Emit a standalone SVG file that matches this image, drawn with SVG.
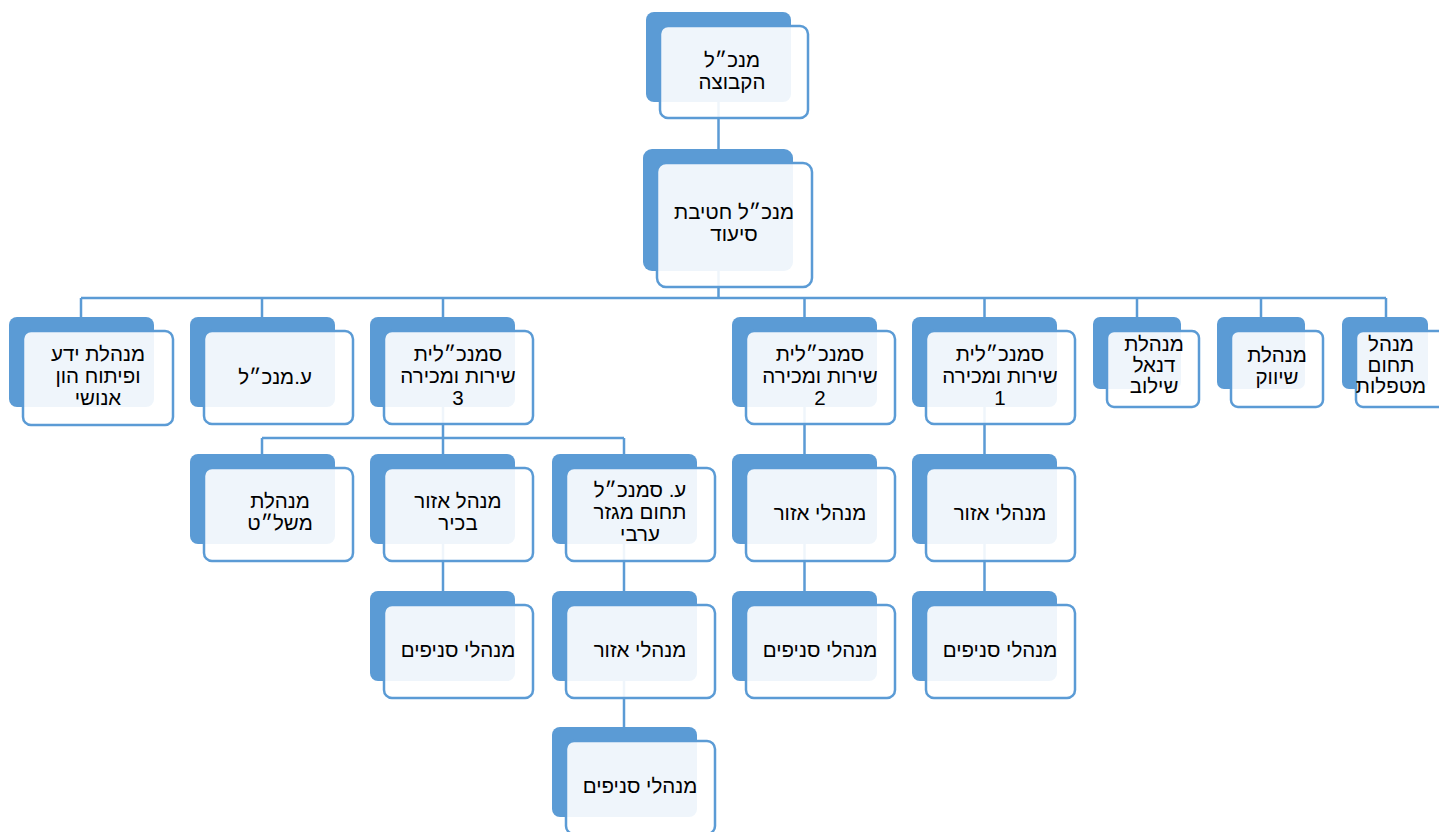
<svg xmlns="http://www.w3.org/2000/svg" width="1439" height="832" viewBox="0 0 1439 832">
<style>
.bk{fill:#5B9BD5;}
.fr{fill:#FFFFFF;fill-opacity:0.9;stroke:#5B9BD5;stroke-width:2.5;}
.cn{stroke:#5B9BD5;stroke-width:2.5;fill:none;}
text{font-family:"Liberation Sans","DejaVu Sans",sans-serif;font-size:20.5px;fill:#000;text-anchor:middle;direction:rtl;}
</style>
<rect width="1439" height="832" fill="#FFFFFF"/>
<g id="connectors">
<path class="cn" d="M718.5,57 V149 M718.5,210 V298 M81,298 H1386 M81,298 V317 M262,298 V317 M443,298 V317 M804.5,298 V317 M984.5,298 V317 M1137,298 V317 M1261,298 V317 M1386,298 V317"/>
<path class="cn" d="M443,362 V454 M262,438 H624 M262,438 V454 M624,438 V454"/>
<path class="cn" d="M443,499 V591 M624,499 V591 M624,636 V727 M804.5,362 V454 M804.5,499 V591 M984.5,362 V454 M984.5,499 V591"/>
</g>
<g id="n-top"><rect class="bk" x="646" y="12" width="145" height="90" rx="8"/><rect class="fr" x="660" y="26" width="148" height="92" rx="8"/><text x="732"><tspan x="732" y="67">מנכ״ל</tspan><tspan x="732" y="89">הקבוצה</tspan></text></g>
<g id="n-siud"><rect class="bk" x="643" y="149" width="150" height="122" rx="9"/><rect class="fr" x="657" y="163" width="155" height="124" rx="9"/><text><tspan x="734" y="219">מנכ״ל חטיבת</tspan><tspan x="734" y="241">סיעוד</tspan></text></g>
<g id="n-yeda"><rect class="bk" x="9" y="317" width="145" height="90" rx="8"/><rect class="fr" x="23" y="331" width="150" height="94" rx="8"/><text><tspan x="98" y="361">מנהלת ידע</tspan><tspan x="98" y="383">ופיתוח הון</tspan><tspan x="98" y="405">אנושי</tspan></text></g>
<g id="n-deputy"><rect class="bk" x="190" y="317" width="145" height="90" rx="8"/><rect class="fr" x="204" y="331" width="149" height="93" rx="8"/><text><tspan x="275" y="384">ע.מנכ״ל</tspan></text></g>
<g id="n-vp3"><rect class="bk" x="370" y="317" width="145" height="90" rx="8"/><rect class="fr" x="384" y="331" width="149" height="93" rx="8"/><text><tspan x="458" y="361">סמנכ״לית</tspan><tspan x="458" y="383">שירות ומכירה</tspan><tspan x="458" y="405">3</tspan></text></g>
<g id="n-vp2"><rect class="bk" x="732" y="317" width="145" height="90" rx="8"/><rect class="fr" x="746" y="331" width="149" height="93" rx="8"/><text><tspan x="820" y="361">סמנכ״לית</tspan><tspan x="820" y="383">שירות ומכירה</tspan><tspan x="820" y="405">2</tspan></text></g>
<g id="n-vp1"><rect class="bk" x="912" y="317" width="145" height="90" rx="8"/><rect class="fr" x="926" y="331" width="149" height="93" rx="8"/><text><tspan x="1000" y="361">סמנכ״לית</tspan><tspan x="1000" y="383">שירות ומכירה</tspan><tspan x="1000" y="405">1</tspan></text></g>
<g id="n-danel"><rect class="bk" x="1093" y="317" width="88" height="72" rx="7"/><rect class="fr" x="1107" y="331" width="92" height="76" rx="7"/><text><tspan x="1154" y="351">מנהלת</tspan><tspan x="1154" y="372">דנאל</tspan><tspan x="1154" y="393">שילוב</tspan></text></g>
<g id="n-shivuk"><rect class="bk" x="1217" y="317" width="88" height="72" rx="7"/><rect class="fr" x="1231" y="331" width="92" height="76" rx="7"/><text><tspan x="1277" y="362">מנהלת</tspan><tspan x="1277" y="384">שיווק</tspan></text></g>
<g id="n-metaplot"><rect class="bk" x="1342" y="317" width="86" height="72" rx="7"/><rect class="fr" x="1356" y="331" width="92" height="76" rx="7"/><text><tspan x="1391" y="351">מנהל</tspan><tspan x="1391" y="372">תחום</tspan><tspan x="1391" y="393">מטפלות</tspan></text></g>
<g id="n-mashlat"><rect class="bk" x="190" y="454" width="145" height="90" rx="8"/><rect class="fr" x="204" y="468" width="149" height="93" rx="8"/><text><tspan x="280" y="508">מנהלת</tspan><tspan x="280" y="530">משל״ט</tspan></text></g>
<g id="n-bachir"><rect class="bk" x="370" y="454" width="145" height="90" rx="8"/><rect class="fr" x="384" y="468" width="149" height="93" rx="8"/><text><tspan x="458" y="508">מנהל אזור</tspan><tspan x="458" y="530">בכיר</tspan></text></g>
<g id="n-aravi"><rect class="bk" x="552" y="454" width="145" height="90" rx="8"/><rect class="fr" x="566" y="468" width="149" height="93" rx="8"/><text><tspan x="640" y="497">ע. סמנכ״ל</tspan><tspan x="640" y="519">תחום מגזר</tspan><tspan x="640" y="541">ערבי</tspan></text></g>
<g id="n-area2"><rect class="bk" x="732" y="454" width="145" height="90" rx="8"/><rect class="fr" x="746" y="468" width="149" height="93" rx="8"/><text><tspan x="820" y="520">מנהלי אזור</tspan></text></g>
<g id="n-area1"><rect class="bk" x="912" y="454" width="145" height="90" rx="8"/><rect class="fr" x="926" y="468" width="149" height="93" rx="8"/><text><tspan x="1000" y="520">מנהלי אזור</tspan></text></g>
<g id="n-branch3"><rect class="bk" x="370" y="591" width="145" height="90" rx="8"/><rect class="fr" x="384" y="605" width="149" height="93" rx="8"/><text><tspan x="458" y="657">מנהלי סניפים</tspan></text></g>
<g id="n-area-aravi"><rect class="bk" x="552" y="591" width="145" height="90" rx="8"/><rect class="fr" x="566" y="605" width="149" height="93" rx="8"/><text><tspan x="640" y="657">מנהלי אזור</tspan></text></g>
<g id="n-branch2"><rect class="bk" x="732" y="591" width="145" height="90" rx="8"/><rect class="fr" x="746" y="605" width="149" height="93" rx="8"/><text><tspan x="820" y="657">מנהלי סניפים</tspan></text></g>
<g id="n-branch1"><rect class="bk" x="912" y="591" width="145" height="90" rx="8"/><rect class="fr" x="926" y="605" width="149" height="93" rx="8"/><text><tspan x="1000" y="657">מנהלי סניפים</tspan></text></g>
<g id="n-branch-aravi"><rect class="bk" x="552" y="727" width="145" height="90" rx="8"/><rect class="fr" x="566" y="741" width="149" height="93" rx="8"/><text><tspan x="640" y="793">מנהלי סניפים</tspan></text></g>
</svg>
